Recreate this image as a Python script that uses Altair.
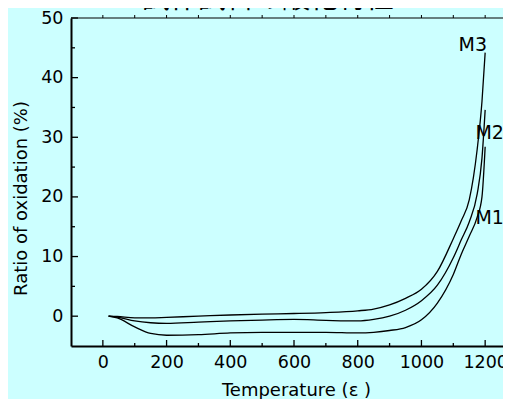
import altair as alt
import pandas as pd

# ---- data ----
temperature = [18, 45, 100, 150, 200, 300, 400, 500, 600, 700, 800, 850, 900,
               950, 1000, 1050, 1100, 1125, 1150, 1175, 1190, 1200]
m1 = [0, -0.3, -1.8, -2.9, -3.2, -3.1, -2.8, -2.7, -2.7, -2.7, -2.8, -2.7, -2.4,
      -1.9, -0.6, 2.2, 7.0, 10.4, 13.4, 16.6, 20.0, 28.4]
m2 = [0, -0.15, -0.8, -1.1, -1.2, -1.0, -0.8, -0.65, -0.55, -0.7, -0.8, -0.55, 0.0,
      1.0, 2.6, 5.2, 9.8, 12.8, 15.8, 20.5, 26.5, 34.6]
m3 = [0, -0.05, -0.3, -0.3, -0.2, 0.0, 0.2, 0.35, 0.45, 0.6, 0.9, 1.2, 1.9,
      3.0, 4.5, 7.5, 13.0, 16.0, 19.5, 28.0, 36.0, 44.2]

series_names = ["M1", "M2", "M3"]
label_text = ["M3", "M2", "M1"]
label_x = [1161, 1214, 1214]
label_y = [45.5, 30.7, 16.4]

x_major = [0, 200, 400, 600, 800, 1000, 1200]
x_minor = [100, 300, 500, 700, 900, 1100]
x_top = [0, 100, 200, 300, 400, 500, 600, 700, 800, 900, 1000, 1100, 1200]
y_major = [0, 10, 20, 30, 40, 50]
y_minor = [5, 15, 25, 35, 45]
x_range = [-100, 1256]
y_range = [-5, 50]

title_text = "試作試料の酸化特性"
x_title = "Temperature (ε )"
y_title = "Ratio of oxidation (%)"

# ---- build tables ----
rows = []
for name, vals in zip(series_names, [m1, m2, m3]):
    for t, v in zip(temperature, vals):
        rows.append({"T": t, "v": v, "series": name})
df = pd.DataFrame(rows)
labels_df = pd.DataFrame({"T": label_x, "v": label_y, "label": label_text})

W, H = 432, 328
FONT = "DejaVu Sans"
xs = alt.Scale(domain=x_range, nice=False, zero=False)
ys = alt.Scale(domain=y_range, nice=False, zero=False)

x_axis = alt.Axis(
    values=x_major, format="d", ticks=False, grid=False, domainWidth=2,
    domainColor="black", labelFontSize=17.5, labelFont=FONT,
    labelColor="black", labelPadding=7, title=x_title,
    titleFont=FONT, titleFontSize=18, titleFontWeight="normal",
    titleColor="black", titlePadding=11, titleX=225, labelFlush=False)
y_axis = alt.Axis(
    values=y_major, ticks=False, grid=False, domainWidth=2,
    domainColor="black", labelFontSize=17.5, labelFont=FONT,
    labelColor="black", labelPadding=8, title=y_title,
    titleFont=FONT, titleFontSize=18, titleFontWeight="normal",
    titleColor="black", titlePadding=10, titleY=180)

lines = alt.Chart(df).mark_line(
    color="black", strokeWidth=1.3, interpolate="monotone"
).encode(
    x=alt.X("T:Q", scale=xs, axis=x_axis),
    y=alt.Y("v:Q", scale=ys, axis=y_axis),
    detail="series:N",
)

labels = alt.Chart(labels_df).mark_text(
    font=FONT, fontSize=19, color="black", align="center", baseline="middle"
).encode(
    x=alt.X("T:Q", scale=xs, axis=x_axis),
    y=alt.Y("v:Q", scale=ys, axis=y_axis),
    text="label:N",
)


def xtick(vals, y0, y1, w=1.3):
    return alt.Chart(pd.DataFrame({"T": vals})).mark_rule(
        color="black", strokeWidth=w
    ).encode(x=alt.X("T:Q", scale=xs, axis=x_axis), y=alt.value(y0), y2=alt.value(y1))


def ytick(vals, x1, w=1.3):
    return alt.Chart(pd.DataFrame({"v": vals})).mark_rule(
        color="black", strokeWidth=w
    ).encode(y=alt.Y("v:Q", scale=ys, axis=y_axis), x=alt.value(0), x2=alt.value(x1))


xmaj = xtick(x_major, H, H - 6)
xmin = xtick(x_minor, H, H - 3)
xtop = xtick(x_top, 0, -3, 1)
ymaj = ytick(y_major, 7)
ymin = ytick(y_minor, 4)

# top frame line (no right border visible in the reference)
top_line = alt.Chart(pd.DataFrame({"T": [x_range[0]], "T2": [x_range[1]]})).mark_rule(
    color="black", strokeWidth=1.2
).encode(x=alt.X("T:Q", scale=xs, axis=x_axis), x2="T2:Q", y=alt.value(0))

title = alt.Chart(pd.DataFrame({"title": [title_text]})).mark_text(
    font="Noto Sans CJK JP", fontSize=28, color="black", align="center",
    baseline="alphabetic"
).encode(text="title:N", x=alt.value(197), y=alt.value(-10))

chart = alt.layer(lines, labels, xmaj, xmin, xtop, ymaj, ymin, top_line, title).properties(
    width=W, height=H,
    autosize=alt.AutoSizeParams(type="none"),
    padding={"left": 63, "top": 10, "right": 0, "bottom": 53},
    background="#ccffff",
).configure_view(fill="#ccffff", stroke="transparent", strokeWidth=0)

chart.save("out.html", embed_options={"renderer": "svg", "actions": False})
